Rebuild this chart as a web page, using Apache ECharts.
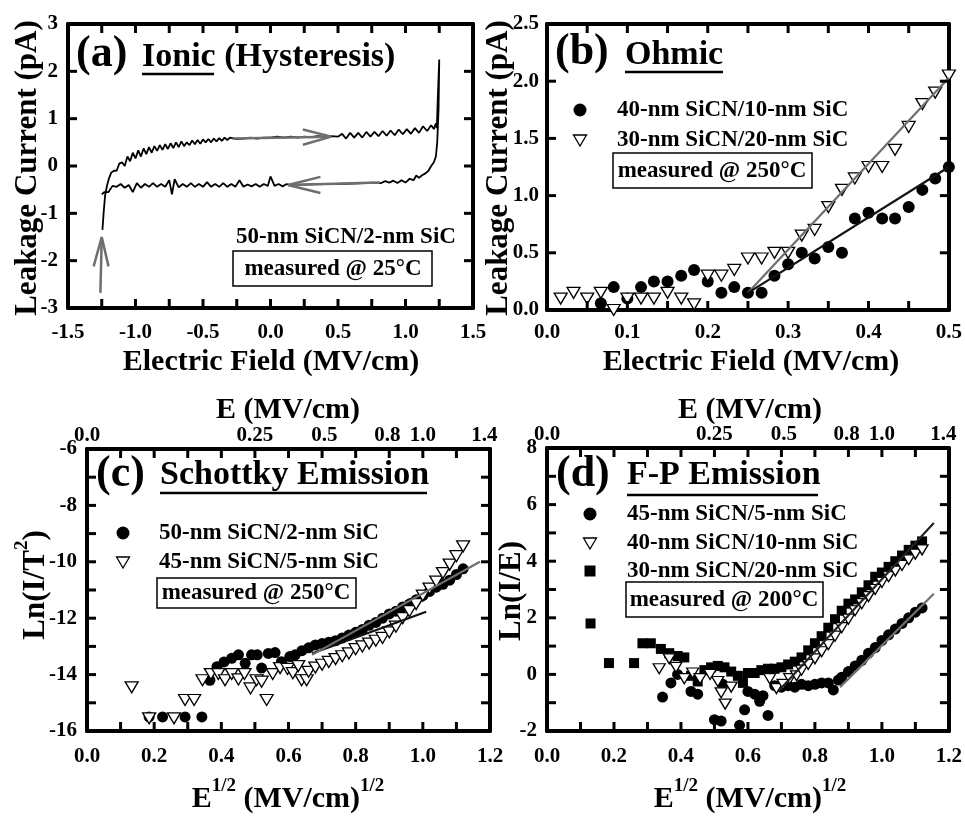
<!DOCTYPE html>
<html>
<head>
<meta charset="utf-8">
<script src="https://cdn.jsdelivr.net/npm/echarts@6/dist/echarts.min.js"></script>
<style>
  html, body { margin: 0; padding: 0; background: #fff; }
  #chart { width: 965px; height: 816px; }
</style>
</head>
<body>
<div id="chart"></div>
<script>
// ---- data ----

// (a) hysteresis loop, traced in order
var loopPoints = [
  [-1.245,-1.35],[-1.235,-0.95],[-1.225,-0.62],[-1.21,-0.4],[-1.195,-0.25],[-1.18,-0.14],[-1.16,-0.1],[-1.14,-0.1],[-1.12,0.05],[-1.1,0.08],
  [-1.08,0.0],[-1.06,0.2],[-1.04,0.1],[-1.02,0.28],[-1.0,0.16],[-0.98,0.33],[-0.96,0.2],[-0.94,0.37],[-0.92,0.25],[-0.9,0.4],
  [-0.88,0.28],[-0.86,0.42],[-0.84,0.32],[-0.82,0.44],[-0.8,0.34],[-0.78,0.46],[-0.76,0.36],[-0.74,0.48],[-0.72,0.38],[-0.7,0.5],
  [-0.68,0.4],[-0.66,0.52],[-0.64,0.42],[-0.62,0.5],[-0.6,0.44],[-0.58,0.54],[-0.56,0.46],[-0.54,0.55],[-0.52,0.47],[-0.5,0.56],
  [-0.48,0.5],[-0.46,0.57],[-0.44,0.5],[-0.42,0.58],[-0.4,0.52],[-0.38,0.59],[-0.36,0.53],[-0.34,0.6],[-0.32,0.55],[-0.3,0.6],
  [-0.25,0.57],[-0.2,0.58],[-0.15,0.6],[-0.1,0.58],[-0.05,0.6],[0.0,0.6],[0.05,0.62],[0.1,0.6],[0.15,0.62],[0.2,0.6],
  [0.25,0.62],[0.3,0.61],[0.35,0.63],[0.4,0.62],[0.45,0.63],[0.5,0.62],
  [0.53,0.68],[0.56,0.58],[0.59,0.7],[0.62,0.6],[0.65,0.7],[0.68,0.6],[0.71,0.72],[0.74,0.62],[0.77,0.72],[0.8,0.63],
  [0.83,0.74],[0.86,0.64],[0.89,0.75],[0.92,0.65],[0.95,0.77],[0.98,0.67],[1.01,0.78],[1.04,0.68],[1.07,0.8],[1.1,0.7],
  [1.13,0.84],[1.16,0.74],[1.19,0.86],[1.21,0.78],[1.225,0.9],[1.232,0.8],
  [1.24,1.5],[1.25,2.25],[1.245,1.2],[1.235,0.5],[1.225,0.2],[1.21,0.08],[1.19,0.0],[1.17,-0.1],[1.15,-0.15],[1.12,-0.2],
  [1.1,-0.25],[1.08,-0.2],[1.06,-0.3],[1.03,-0.27],[1.0,-0.35],[0.97,-0.3],[0.94,-0.36],[0.91,-0.31],[0.88,-0.35],[0.85,-0.32],
  [0.82,-0.36],[0.75,-0.35],[0.7,-0.36],[0.6,-0.37],[0.5,-0.38],[0.4,-0.38],[0.3,-0.39],[0.2,-0.4],[0.15,-0.41],
  [0.12,-0.38],[0.09,-0.43],[0.06,-0.38],[0.03,-0.42],[0.0,-0.22],[-0.02,-0.42],[-0.05,-0.38],[-0.08,-0.44],[-0.11,-0.38],[-0.14,-0.43],
  [-0.17,-0.39],[-0.2,-0.44],[-0.23,-0.3],[-0.26,-0.44],[-0.29,-0.38],[-0.32,-0.44],[-0.35,-0.36],[-0.38,-0.44],[-0.41,-0.38],[-0.44,-0.44],
  [-0.47,-0.34],[-0.5,-0.44],[-0.53,-0.38],[-0.56,-0.44],[-0.59,-0.36],[-0.62,-0.44],[-0.65,-0.38],[-0.68,-0.45],[-0.71,-0.28],[-0.73,-0.6],
  [-0.75,-0.3],[-0.78,-0.44],[-0.81,-0.38],[-0.84,-0.44],[-0.87,-0.36],[-0.9,-0.44],[-0.93,-0.38],[-0.96,-0.46],[-0.99,-0.36],[-1.02,-0.55],
  [-1.05,-0.4],[-1.08,-0.46],[-1.11,-0.38],[-1.14,-0.44],[-1.17,-0.42],[-1.2,-0.55],[-1.23,-0.55],[-1.25,-0.6]
];
// (a) grey direction arrows: shaft and head
var arrowUpShaft = [[-1.26,-2.68],[-1.25,-1.5]];
var arrowUpHead = [[-1.31,-2.12],[-1.25,-1.5],[-1.2,-2.12]];
var arrowRightShaft = [[-0.28,0.58],[0.45,0.62]];
var arrowRightHead = [[0.24,0.77],[0.45,0.62],[0.24,0.45]];
var arrowLeftShaft = [[0.81,-0.35],[0.13,-0.4]];
var arrowLeftHead = [[0.37,-0.23],[0.13,-0.4],[0.37,-0.57]];

// (b) ohmic
var bCircleX = [0.067,0.083,0.1,0.117,0.133,0.15,0.167,0.183,0.2,0.217,0.233,0.25,0.267,0.283,0.3,0.317,0.333,0.35,0.367,0.383,0.4,0.417,0.433,0.45,0.467,0.483,0.5];
var bCircleY = [0.06,0.2,0.1,0.2,0.25,0.25,0.3,0.35,0.25,0.15,0.2,0.15,0.15,0.3,0.4,0.5,0.45,0.55,0.5,0.8,0.85,0.8,0.8,0.9,1.05,1.15,1.25];
var bTriX = [0.017,0.033,0.05,0.067,0.083,0.1,0.117,0.133,0.15,0.167,0.183,0.2,0.217,0.233,0.25,0.267,0.283,0.3,0.317,0.333,0.35,0.367,0.383,0.4,0.417,0.433,0.45,0.467,0.483,0.5];
var bTriY = [0.1,0.15,0.1,0.15,0.0,0.1,0.1,0.1,0.15,0.1,0.05,0.3,0.3,0.35,0.45,0.45,0.5,0.5,0.65,0.7,0.9,1.05,1.15,1.25,1.25,1.4,1.6,1.8,1.9,2.05];
var bFitCircle = [[0.25,0.15],[0.5,1.25]];
var bFitTri = [[0.25,0.15],[0.5,2.03]];

// (c) Schottky
var cCircles = [
  [0.185,-15.5],[0.225,-15.5],[0.292,-15.5],[0.342,-15.5],
  [0.366,-14.2],[0.387,-13.72],[0.408,-13.55],[0.431,-13.42],[0.451,-13.3],[0.471,-13.6],[0.49,-13.3],[0.507,-13.3],
  [0.52,-13.77],[0.54,-13.25],[0.56,-13.22],[0.579,-13.54],[0.604,-13.36],
  [0.62,-13.3],[0.64,-13.15],[0.66,-13.05],[0.68,-12.95],[0.7,-12.9],[0.72,-12.85],[0.74,-12.8],[0.76,-12.7],[0.78,-12.6],
  [0.8,-12.5],[0.82,-12.4],[0.84,-12.25],[0.86,-12.15],[0.88,-12.0],[0.9,-11.85],[0.92,-11.75],[0.94,-11.6],[0.96,-11.5],
  [0.98,-11.35],[1.0,-11.2],[1.02,-11.05],[1.04,-10.9],[1.06,-10.8],[1.08,-10.65],[1.1,-10.45],[1.12,-10.25]
];
var cTriangles = [
  [0.133,-14.45],[0.185,-15.55],[0.259,-15.55],[0.292,-14.9],[0.319,-14.9],[0.344,-14.2],[0.369,-13.98],[0.391,-13.98],
  [0.411,-14.2],[0.431,-13.98],[0.451,-14.17],[0.469,-13.98],[0.487,-14.49],[0.505,-14.2],[0.52,-14.25],[0.535,-14.9],
  [0.553,-13.98],[0.575,-13.77],[0.597,-13.8],[0.613,-13.95],[0.629,-13.7],[0.639,-14.2],[0.654,-14.2],
  [0.66,-13.9],[0.68,-13.75],[0.7,-13.65],[0.72,-13.55],[0.74,-13.45],[0.76,-13.35],[0.78,-13.25],[0.8,-13.1],[0.82,-13.0],
  [0.84,-12.9],[0.86,-12.8],[0.88,-12.7],[0.9,-12.5],[0.92,-12.3],[0.94,-12.0],[0.96,-11.75],[0.98,-11.5],[1.0,-11.2],
  [1.02,-10.95],[1.04,-10.7],[1.06,-10.4],[1.08,-10.1],[1.1,-9.8],[1.12,-9.45]
];
var cFitGray = [[0.67,-13.3],[1.17,-10.0]];
var cFitDark = [[0.67,-13.25],[1.01,-11.77]];

// (d) Frenkel-Poole
var dCircles = [
  [0.345,-0.8],[0.37,-0.3],[0.39,0.0],[0.43,-0.6],[0.45,-0.7],[0.5,-1.6],[0.52,-1.65],[0.525,-0.35],[0.575,-1.8],[0.59,-1.25],
  [0.6,-0.6],[0.62,-0.7],[0.635,-0.95],[0.645,-0.75],[0.66,-1.45],[0.68,-0.4],[0.7,-0.45],[0.72,-0.4],[0.74,-0.45],[0.76,-0.35],
  [0.78,-0.4],[0.8,-0.35],[0.82,-0.3],[0.84,-0.3],[0.855,-0.55],[0.87,-0.2],[0.88,-0.1],[0.9,0.1],[0.92,0.3],[0.94,0.5],
  [0.96,0.75],[0.98,0.95],[1.0,1.2],[1.02,1.4],[1.04,1.6],[1.06,1.8],[1.08,2.0],[1.1,2.2],[1.12,2.35]
];
var dTriangles = [
  [0.335,0.2],[0.365,0.55],[0.385,0.25],[0.41,-0.15],[0.435,0.05],[0.457,-0.15],[0.487,0.0],[0.51,-0.25],[0.52,-0.65],[0.532,-1.05],
  [0.55,-0.45],[0.665,-0.15],[0.685,-0.5],[0.705,-0.35],[0.725,-0.15],[0.745,-0.05],[0.76,0.15],[0.78,0.35],[0.8,0.55],[0.82,0.8],
  [0.84,1.05],[0.86,1.35],[0.88,1.65],[0.9,1.95],[0.92,2.25],[0.94,2.5],[0.96,2.75],[0.98,3.0],[1.0,3.25],[1.02,3.45],
  [1.04,3.65],[1.06,3.85],[1.08,4.05],[1.1,4.25],[1.12,4.4]
];
var dSquares = [
  [0.13,1.8],[0.185,0.4],[0.26,0.4],[0.285,1.1],[0.31,1.1],[0.34,0.9],[0.365,0.75],[0.39,0.65],[0.41,0.6],[0.43,-0.05],
  [0.45,-0.25],[0.47,0.15],[0.49,0.25],[0.51,0.3],[0.53,0.25],[0.55,0.1],[0.57,-0.05],[0.585,-0.3],[0.6,0.05],[0.62,0.05],
  [0.64,0.15],[0.66,0.2],[0.68,0.2],[0.7,0.25],[0.72,0.35],[0.74,0.45],[0.76,0.6],[0.78,0.85],[0.8,1.1],[0.82,1.35],
  [0.84,1.65],[0.86,1.95],[0.88,2.25],[0.9,2.5],[0.92,2.65],[0.94,2.9],[0.96,3.15],[0.98,3.45],[1.0,3.6],[1.02,3.8],
  [1.04,4.0],[1.06,4.2],[1.08,4.4],[1.1,4.55],[1.12,4.7]
];
var dFitDark = [[0.69,-0.6],[1.155,5.35]];
var dFitGray = [[0.875,-0.45],[1.155,2.85]];

// top axis of (c) and (d): E in MV/cm placed at sqrt(E)
var topE = [0, 0.25, 0.5, 0.8, 1.0, 1.4];
var topLabels = ['0.0', '0.25', '0.5', '0.8', '1.0', '1.4'];

// axis ranges per panel: [xMin, xMax, xLabelStep, xTickStep, yMin, yMax, yLabelStep, yTickStep]
var ranges = [
  [-1.5, 1.5, 0.5, 0.25, -3, 3, 1, 1],
  [0, 0.5, 0.1, 0.05, 0, 2.5, 0.5, 0.5],
  [0, 1.2, 0.2, 0.1, -16, -6, 2, 1],
  [0, 1.2, 0.2, 0.1, -2, 8, 2, 1]
];

// ---- chart ----
var chart = echarts.init(document.getElementById('chart'));
var FONT = '"Liberation Serif", "Times New Roman", serif';
var GRAY = '#6e6e6e';

var grids = [
  {left: 68, top: 24, width: 405, height: 284},
  {left: 547, top: 24, width: 407, height: 286},
  {left: 87, top: 449, width: 403, height: 282},
  {left: 547, top: 448, width: 406, height: 283}
];

function tickLabel(fmt, margin, show) {
  return {show: show, formatter: fmt, margin: margin, color: '#000',
    fontFamily: FONT, fontWeight: 'bold', fontSize: 21};
}
function axis(g, pos, min, max, interval, fmt, margin, showLabel) {
  return {
    type: 'value', gridIndex: g, position: pos, min: min, max: max, interval: interval,
    axisLine: {show: true, onZero: false, lineStyle: {color: '#000', width: 4}},
    axisTick: {show: false},
    splitLine: {show: false},
    axisLabel: tickLabel(fmt, margin, showLabel)
  };
}
function f1(v) { return v.toFixed(1); }
function f0(v) { return String(Math.round(v)); }

var xAxes = [], yAxes = [];
var xMargins = [14, 12, 15, 15];
ranges.forEach(function (r, g) {
  var xf = f1, yf = (g === 1) ? f1 : f0;
  xAxes.push(axis(g, 'bottom', r[0], r[1], r[2], xf, xMargins[g], true));
  xAxes.push(axis(g, 'top', r[0], r[1], r[2], xf, 3, g >= 2));
  yAxes.push(axis(g, 'left', r[4], r[5], r[6], yf, g === 1 ? 8 : 10, true));
  yAxes.push(axis(g, 'right', r[4], r[5], r[6], yf, 4, false));
});
// custom E labels on the top axes of (c) and (d)
[5, 7].forEach(function (i) {
  xAxes[i].axisLabel.customValues = topE.map(Math.sqrt);
  xAxes[i].axisLabel.formatter = function (v) {
    for (var k = 0; k < topE.length; k++) {
      if (Math.abs(Math.sqrt(topE[k]) - v) < 1e-6) return topLabels[k];
    }
    return '';
  };
});

// inward ticks on all four sides of a panel, placed through the axes
function tickValues(min, max, step) {
  var out = [];
  var n = Math.round((max - min) / step);
  for (var i = 0; i <= n; i++) out.push(min + i * step);
  return out;
}
function frameTicks(g) {
  var r = ranges[g];
  var xs = tickValues(r[0], r[1], r[3]);
  var ys = tickValues(r[4], r[5], r[7]);
  var L = 9;
  return {
    type: 'custom', xAxisIndex: 2 * g, yAxisIndex: 2 * g, silent: true, z: 6, clip: false,
    data: [[r[0], r[4]]],
    renderItem: function (params, api) {
      var cs = params.coordSys;
      var top = cs.y, bottom = cs.y + cs.height, left = cs.x, right = cs.x + cs.width;
      var kids = [];
      var st = {stroke: '#000', lineWidth: 3};
      xs.forEach(function (v) {
        var px = api.coord([v, r[4]])[0];
        kids.push({type: 'line', shape: {x1: px, y1: bottom, x2: px, y2: bottom - L}, style: st});
        kids.push({type: 'line', shape: {x1: px, y1: top, x2: px, y2: top + L}, style: st});
      });
      ys.forEach(function (v) {
        var py = api.coord([r[0], v])[1];
        kids.push({type: 'line', shape: {x1: left, y1: py, x2: left + L, y2: py}, style: st});
        kids.push({type: 'line', shape: {x1: right, y1: py, x2: right - L, y2: py}, style: st});
      });
      return {type: 'group', children: kids};
    }
  };
}

function zip(xs, ys) { return xs.map(function (x, i) { return [x, ys[i]]; }); }

function line(g, data, color, width, z) {
  return {type: 'line', xAxisIndex: 2 * g, yAxisIndex: 2 * g, data: data, showSymbol: false, symbol: 'none',
    lineStyle: {color: color, width: width}, z: z || 3, silent: true};
}
function dots(g, data, kind, size) {
  var s = {type: 'scatter', xAxisIndex: 2 * g, yAxisIndex: 2 * g, data: data, symbolSize: size,
    z: 2, silent: true};
  if (kind === 'circle') {
    s.symbol = 'circle';
    s.itemStyle = {color: '#000', opacity: 1};
  } else if (kind === 'square') {
    s.symbol = 'rect';
    s.itemStyle = {color: '#000', opacity: 1};
  } else {
    s.symbol = 'triangle';
    s.symbolRotate = 180;
    s.itemStyle = {color: '#fff', borderColor: '#000', borderWidth: 1.3, opacity: 1};
  }
  return s;
}

var series = [
  line(0, loopPoints, '#000', 1.8, 2),
  line(0, arrowUpShaft, GRAY, 2.5, 4), line(0, arrowUpHead, GRAY, 2.5, 4),
  line(0, arrowRightShaft, GRAY, 2.5, 4), line(0, arrowRightHead, GRAY, 2.5, 4),
  line(0, arrowLeftShaft, GRAY, 2.5, 4), line(0, arrowLeftHead, GRAY, 2.5, 4),

  dots(1, zip(bCircleX, bCircleY), 'circle', 12),
  dots(1, zip(bTriX, bTriY), 'tri', [13, 11]),
  line(1, bFitTri, GRAY, 2.2, 4),
  line(1, bFitCircle, '#111', 2.2, 4),

  dots(2, cCircles, 'circle', 11),
  dots(2, cTriangles, 'tri', [13, 11]),
  line(2, cFitDark, '#111', 2.2, 4),
  line(2, cFitGray, GRAY, 2.2, 4),

  dots(3, dSquares, 'square', 10),
  dots(3, dCircles, 'circle', 11),
  dots(3, dTriangles, 'tri', [12, 10]),
  line(3, dFitDark, '#222', 2.2, 4),
  line(3, dFitGray, GRAY, 2.2, 4),

  frameTicks(0), frameTicks(1), frameTicks(2), frameTicks(3)
];

// ---- text, boxes and legends ----
function txt(x, y, text, size, align, rot) {
  return {type: 'text', x: x, y: y, rotation: rot || 0, z: 10, silent: true,
    style: {text: text, fill: '#000', fontFamily: FONT, fontWeight: 'bold', fontSize: size,
      textAlign: align || 'left', textVerticalAlign: 'middle'}};
}
function richTxt(x, y, text, size, supSize, rot) {
  return {type: 'text', x: x, y: y, rotation: rot || 0, z: 10, silent: true,
    style: {text: text, fill: '#000', fontFamily: FONT, fontWeight: 'bold', fontSize: size,
      textAlign: 'center', textVerticalAlign: 'middle',
      rich: {
        b: {fontFamily: FONT, fontWeight: 'bold', fontSize: size, lineHeight: size * 1.25, verticalAlign: 'bottom'},
        s: {fontFamily: FONT, fontWeight: 'bold', fontSize: supSize, lineHeight: supSize * 1.1, verticalAlign: 'top'}
      }}};
}
function uline(x1, x2, y) {
  return {type: 'line', z: 10, silent: true, shape: {x1: x1, y1: y, x2: x2, y2: y},
    style: {stroke: '#000', lineWidth: 2.5}};
}
function box(x, y, w, h) {
  return {type: 'rect', z: 10, silent: true, shape: {x: x, y: y, width: w, height: h},
    style: {fill: 'transparent', stroke: '#000', lineWidth: 1.5}};
}
function dotMark(cx, cy) {
  return {type: 'circle', z: 10, silent: true, shape: {cx: cx, cy: cy, r: 6.5}, style: {fill: '#000'}};
}
function triMark(cx, cy) {
  return {type: 'polygon', z: 10, silent: true,
    shape: {points: [[cx - 6.5, cy - 5], [cx + 6.5, cy - 5], [cx, cy + 6]]},
    style: {fill: '#fff', stroke: '#000', lineWidth: 1.3}};
}
function sqMark(cx, cy) {
  return {type: 'rect', z: 10, silent: true, shape: {x: cx - 5.5, y: cy - 5.5, width: 11, height: 11}, style: {fill: '#000'}};
}

var R = -Math.PI / 2;
var graphics = [
  // (a)
  txt(76, 55, '(a)', 44), txt(142, 57, 'Ionic (Hysteresis)', 34), uline(142, 214, 74),
  txt(346, 237, '50-nm SiCN/2-nm SiC', 23, 'center'),
  box(233, 251, 199, 35), txt(333, 269, 'measured @ 25°C', 23, 'center'),
  txt(28, 168, 'Leakage Current (pA)', 31, 'center', -R),
  txt(271, 362, 'Electric Field (MV/cm)', 30, 'center'),
  // (b)
  txt(555, 53, '(b)', 44), txt(625, 55, 'Ohmic', 34), uline(625, 723, 72),
  dotMark(580, 110), txt(617, 110, '40-nm SiCN/10-nm SiC', 23),
  triMark(580, 140), txt(617, 140, '30-nm SiCN/20-nm SiC', 23),
  box(613, 153, 199, 35), txt(712, 171, 'measured @ 250°C', 23, 'center'),
  txt(499, 168, 'Leakage Current (pA)', 31, 'center', -R),
  txt(751, 362, 'Electric Field (MV/cm)', 30, 'center'),
  // (c)
  txt(96, 475, '(c)', 44), txt(160, 475, 'Schottky Emission', 34), uline(160, 427, 493),
  dotMark(123, 533), txt(159, 533, '50-nm SiCN/2-nm SiC', 23),
  triMark(123, 562), txt(159, 562, '45-nm SiCN/5-nm SiC', 23),
  box(157, 578, 199, 30), txt(256, 593, 'measured @ 250°C', 23, 'center'),
  richTxt(32, 585, '{b|Ln(I/T}{s|2}{b|)}', 31, 19, -R),
  txt(288, 410, 'E (MV/cm)', 30, 'center'),
  richTxt(288, 795, '{b|E}{s|1/2}{b| (MV/cm)}{s|1/2}', 30, 19),
  // (d)
  txt(556, 475, '(d)', 44), txt(627, 475, 'F-P Emission', 34), uline(627, 818, 495),
  dotMark(590, 514), txt(627, 514, '45-nm SiCN/5-nm SiC', 23),
  triMark(590, 543), txt(627, 543, '40-nm SiCN/10-nm SiC', 23),
  sqMark(590, 571), txt(627, 571, '30-nm SiCN/20-nm SiC', 23),
  box(626, 582, 197, 35), txt(724, 600, 'measured @ 200°C', 23, 'center'),
  txt(512, 591, 'Ln(I/E)', 31, 'center', -R),
  txt(750, 410, 'E (MV/cm)', 30, 'center'),
  richTxt(750, 795, '{b|E}{s|1/2}{b| (MV/cm)}{s|1/2}', 30, 19)
];

chart.setOption({
  backgroundColor: '#fff',
  grid: grids,
  xAxis: xAxes,
  yAxis: yAxes,
  series: series,
  graphic: graphics
});
</script>
</body>
</html>
